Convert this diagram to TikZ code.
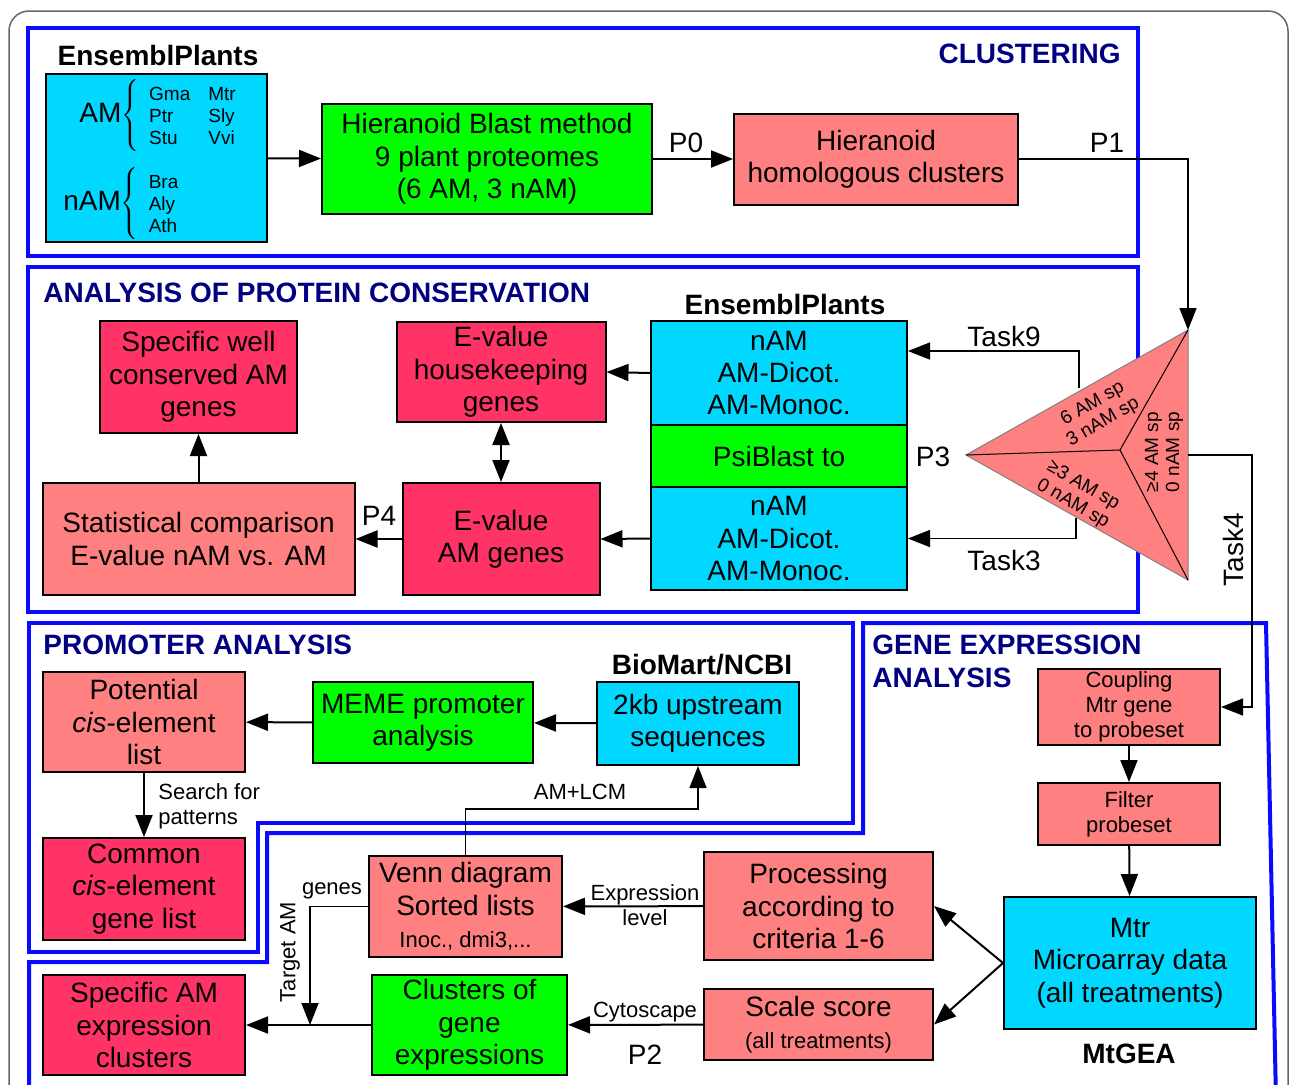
\documentclass[tikz,border=0pt]{standalone}
\usepackage{fontspec}
\setmainfont{Liberation Sans}
\usetikzlibrary{arrows.meta}
\definecolor{cyanbg}{RGB}{0,216,255}
\definecolor{greenbg}{RGB}{0,255,0}
\definecolor{salmonbg}{RGB}{255,128,128}
\definecolor{redbg}{RGB}{255,51,102}
\definecolor{panelblue}{RGB}{10,10,255}
\definecolor{titleblue}{RGB}{0,0,128}
\begin{document}
\begin{tikzpicture}[x=0.5pt,y=-0.5pt,
  box/.style={draw=black, line width=1pt, align=center, inner sep=0pt, font=\fontsize{14}{16.2}\selectfont},
  cyanbox/.style={box, fill=cyanbg},
  greenbox/.style={box, fill=greenbg},
  salmonbox/.style={box, fill=salmonbg},
  redbox/.style={box, fill=redbg},
  smalltext/.style={font=\fontsize{11}{12.5}\selectfont, inner sep=0pt},
  bigtext/.style={font=\fontsize{14}{16}\selectfont, inner sep=0pt},
  sectortext/.style={font=\fontsize{9.5}{10.5}\selectfont, align=center, inner sep=0pt},
  source/.style={font=\bfseries\fontsize{14}{16}\selectfont, inner sep=0pt},
  paneltitle/.style={font=\bfseries\fontsize{14}{16.5}\selectfont, text=titleblue, inner sep=0pt},
  panel/.style={draw=panelblue, line width=2pt},
  arr/.style={line width=1pt, -{Triangle[length=11pt,width=8.5pt]}},
  thinarr/.style={line width=0.75pt, -{Triangle[length=11pt,width=8.5pt]}},
  dblarr/.style={line width=1pt, {Triangle[length=11pt,width=8.5pt]}-{Triangle[length=11pt,width=8.5pt]}}
]
\useasboundingbox (0,0) rectangle (1290,1084);
\clip (0,0) rectangle (1290,1084);
\draw[gray!80!black, line width=0.75pt, rounded corners=10pt] (9,1120) -- (9,11) -- (1288,11) -- (1288,1120);

\draw[panel] (28,28) rectangle (1138,256);
\draw[panel] (28,267) rectangle (1138,612);
\draw[panel] (29,623) -- (853,623) -- (853,823) -- (258,823) -- (258,952) -- (29,952) -- cycle;
\draw[panel] (29,1100) -- (29,962) -- (267,962) -- (267,833) -- (863,833) -- (863,623) -- (1266,623) -- (1276,1100);

\node[paneltitle, anchor=east] (tclust) at (1121,54) {CLUSTERING};
\node[paneltitle, anchor=west] (tcons) at (43,293) {ANALYSIS OF PROTEIN CONSERVATION};
\node[paneltitle, anchor=west] (tprom) at (43,645) {PROMOTER ANALYSIS};
\node[paneltitle, anchor=north west, align=left] (texpr) at (872,635) {GENE EXPRESSION\\ANALYSIS};

\node[source] (src1) at (158,55) {EnsemblPlants};
\node[cyanbox, minimum width=110.5pt, minimum height=84pt] (plants) at (156.5,158) {};
\node[bigtext, anchor=west] (am) at (79,115) {AM$\left\{\hbox{\fontsize{9.5}{11}\selectfont\begin{tabular}{@{\hspace{5pt}}l@{\hspace{9pt}}l@{}}Gma & Mtr\\Ptr & Sly\\Stu & Vvi\end{tabular}}\right.$};
\node[bigtext, anchor=west] (nam) at (63,203) {nAM$\left\{\hbox{\fontsize{9.5}{11}\selectfont\begin{tabular}{@{\hspace{5pt}}l@{}}Bra\\Aly\\Ath\end{tabular}}\right.$};
\node[greenbox, minimum width=165pt, minimum height=55pt] (hbm) at (487,159) {Hieranoid Blast method\\9 plant proteomes\\(6 AM, 3 nAM)};
\node[salmonbox, minimum width=142pt, minimum height=45.5pt] (hhc) at (876,159) {Hieranoid\\homologous clusters};
\node[bigtext] (p0) at (686,143) {P0};
\node[bigtext] (p1) at (1107,143) {P1};

\coordinate (tt) at (1188,330);
\coordinate (tl) at (966,455);
\coordinate (tb) at (1188,580);
\coordinate (tc) at (1120,450);
\coordinate (t9) at (1079,388);
\coordinate (t3) at (1076,518);
\coordinate (t4) at (1188,455);
\draw[fill=salmonbg, draw=gray, line width=0.5pt] (tt) -- (tl) -- (tb) -- cycle;
\draw[line width=0.5pt] (tl) -- (tc) -- (tt) (tc) -- (tb);
\node[sectortext, rotate=30] (sec1) at (1098,413) {6 AM sp\\3 nAM sp};
\node[sectortext, rotate=-30] (sec2) at (1078,495) {≥3 AM sp\\0 nAM sp};
\node[sectortext, rotate=90] (sec3) at (1164,452) {≥4 AM sp\\0 nAM sp};

\node[source] (src2) at (785,304) {EnsemblPlants};
\node[cyanbox, minimum width=128pt, minimum height=52pt] (stop) at (779,373) {nAM\\AM-Dicot.\\AM-Monoc.};
\node[greenbox, minimum width=128pt, minimum height=31pt] (psi) at (779,456) {PsiBlast to};
\node[cyanbox, minimum width=128pt, minimum height=51.5pt] (sbot) at (779,538.5) {nAM\\AM-Dicot.\\AM-Monoc.};
\node[redbox, minimum width=104.5pt, minimum height=50pt] (hk) at (501,372) {E-value\\housekeeping\\genes};
\node[redbox, minimum width=98.5pt, minimum height=56pt] (wcg) at (198.5,377) {Specific well\\conserved AM\\genes};
\node[salmonbox, minimum width=156pt, minimum height=56pt] (stat) at (198.5,539) {Statistical comparison\\E-value nAM vs. AM};
\node[redbox, minimum width=98.5pt, minimum height=56pt] (eam) at (501,539) {E-value\\AM genes};
\node[bigtext] (p3) at (933,457) {P3};
\node[bigtext] (p4) at (379,516) {P4};
\node[bigtext] (task9) at (1004,336) {Task9};
\node[bigtext] (task3) at (1004,560) {Task3};
\node[bigtext, rotate=90] (task4) at (1233,550) {Task4};

\node[source] (src3) at (702,665) {BioMart/NCBI};
\node[salmonbox, minimum width=101pt, minimum height=50pt] (pot) at (144,722) {Potential\\\textit{cis}-element\\list};
\node[greenbox, minimum width=110pt, minimum height=40.5pt] (meme) at (423,722.5) {MEME promoter\\analysis};
\node[cyanbox, minimum width=101pt, minimum height=41.5pt] (up) at (698,723.5) {2kb upstream\\sequences};
\node[redbox, minimum width=101pt, minimum height=51pt] (common) at (144,889) {Common\\\textit{cis}-element\\gene list};
\node[smalltext, anchor=west, align=left] (search) at (158,806) {Search for\\patterns};
\node[smalltext] (amlcm) at (580,792) {AM+LCM};

\node[salmonbox, font=\fontsize{11}{12.5}\selectfont, minimum width=91pt, minimum height=38pt] (coup) at (1129,707) {Coupling\\Mtr gene\\to probeset};
\node[salmonbox, font=\fontsize{11}{12.5}\selectfont, minimum width=91pt, minimum height=31pt] (filt) at (1129,814) {Filter\\probeset};
\node[cyanbox, minimum width=126pt, minimum height=66pt] (mtr) at (1130,963) {Mtr\\Microarray data\\(all treatments)};
\node[source] (src4) at (1129,1054) {MtGEA};
\node[salmonbox, minimum width=114.5pt, minimum height=54pt] (proc) at (818.5,906) {Processing\\according to\\criteria 1-6};
\node[salmonbox, minimum width=114.5pt, minimum height=35.5pt] (scale) at (818.5,1024.5) {Scale score\\{\fontsize{11}{12.5}\selectfont (all treatments)}};
\node[salmonbox, minimum width=96.5pt, minimum height=50.5pt] (venn) at (465.5,906.5) {Venn diagram\\Sorted lists\\{\fontsize{11}{12.5}\selectfont Inoc., dmi3,...}};
\node[greenbox, minimum width=97.5pt, minimum height=50pt] (clus) at (469.5,1025) {Clusters of\\gene\\expressions};
\node[redbox, minimum width=101pt, minimum height=50pt] (specam) at (144,1025) {Specific AM\\expression\\clusters};
\node[smalltext, align=center] (exprl) at (645,905) {Expression\\level};
\node[smalltext] (cyto) at (645,1012) {Cytoscape};
\node[bigtext] (p2) at (645,1055) {P2};
\node[smalltext] (genes) at (332,891) {genes};
\node[smalltext, rotate=90] (tam) at (290,952) {Target AM};
\coordinate (tj) at (310,1025);

\path[arr] (plants) edge (hbm);
\path[arr] (hbm) edge (hhc);
\draw[thinarr] (hhc.east) -| (tt);
\draw[thinarr] (t9) |- ([yshift=11pt]stop.east);
\draw[thinarr] (t3) |- (sbot.east);
\draw[thinarr] (t4) -- ++(64,0) |- (coup.east);
\path[arr] (stop.west) edge (hk.east);
\path[arr] (sbot.west) edge (eam.east);
\path[arr] (eam) edge (stat);
\path[arr] (stat) edge (wcg);
\path[dblarr] (hk) edge (eam);
\path[arr] (up) edge (meme);
\path[arr] (meme) edge (pot);
\path[arr] (pot) edge (common);
\draw[thinarr] (venn.north) -- ++(0,-46) -| (up.south);
\path[arr] (coup) edge (filt);
\path[arr] (filt) edge (mtr);
\path[arr] (mtr.west) edge (proc.east);
\path[arr] (mtr.west) edge (scale.east);
\path[arr] (proc) edge (venn);
\path[arr] (scale) edge (clus);
\path[arr] (clus) edge (specam);
\draw[thinarr] (venn.west) -| (tj);
\end{tikzpicture}
\end{document}
